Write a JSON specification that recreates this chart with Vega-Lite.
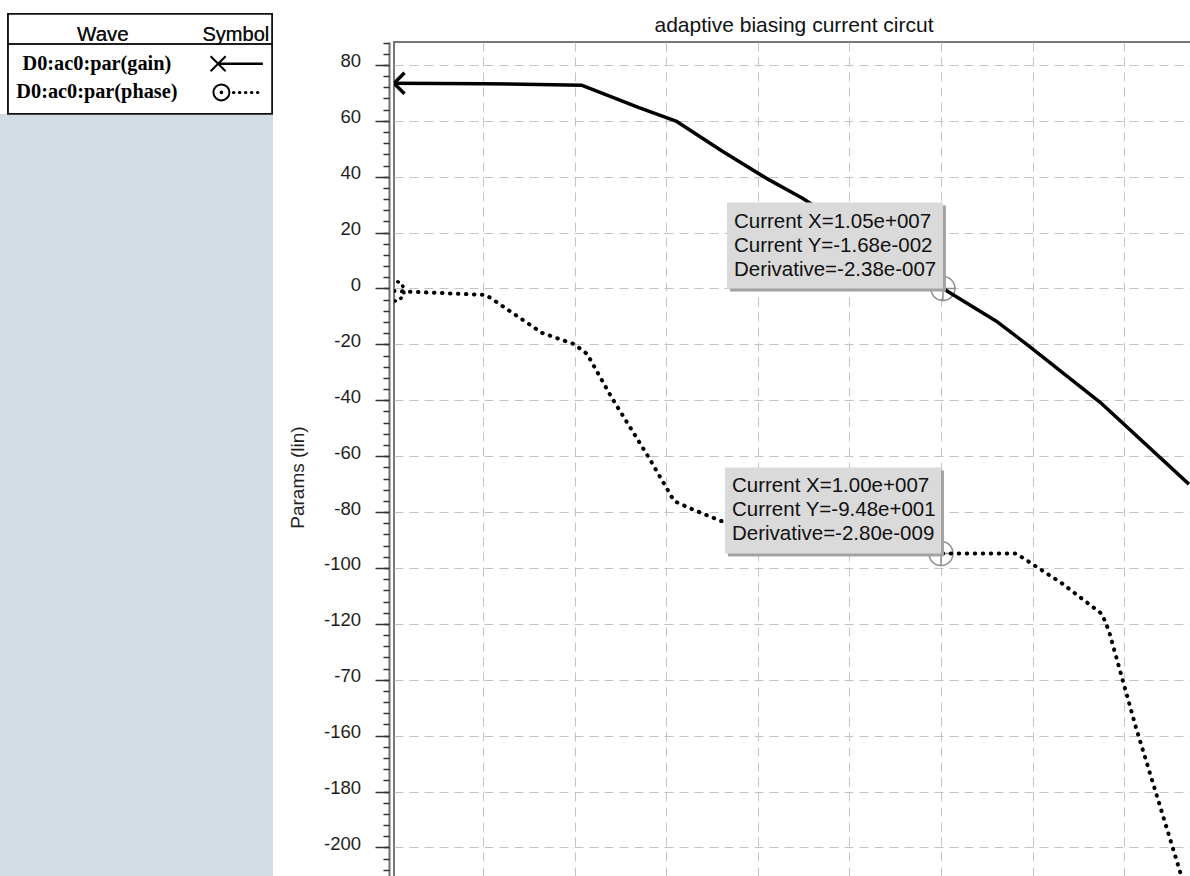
{
  "$schema": "https://vega.github.io/schema/vega-lite/v6.json",
  "padding": {"top": 13, "left": 0, "right": 0, "bottom": 0},
  "background": "#ffffff",
  "spacing": 14,
  "config": {
    "view": {"stroke": "#777777", "strokeWidth": 2},
    "font": "Liberation Sans",
    "axis": {
      "labelFont": "Liberation Sans", "labelFontSize": 18.5, "labelColor": "#1e1e1e",
      "titleFont": "Liberation Sans", "titleFontSize": 19, "titleFontWeight": "normal", "titleColor": "#1e1e1e",
      "domainColor": "#6e6e6e", "domainWidth": 2, "tickColor": "#333333", "tickWidth": 1.5,
      "gridColor": "#c4c4c4", "gridDash": [9, 6], "gridWidth": 1
    }
  },
  "datasets": {
    "legendRows": [
      {"series": "gain", "label": "D0:ac0:par(gain)", "order": 1},
      {"series": "phase", "label": "D0:ac0:par(phase)", "order": 2}
    ],
    "curves": [
      {"series": "gain", "freq": 10.67, "value": 73.4},
      {"series": "gain", "freq": 102.6, "value": 73.3},
      {"series": "gain", "freq": 1205, "value": 72.7},
      {"series": "gain", "freq": 5047, "value": 64.7},
      {"series": "gain", "freq": 12790, "value": 59.9},
      {"series": "gain", "freq": 40640, "value": 49.2},
      {"series": "gain", "freq": 123000, "value": 39.5},
      {"series": "gain", "freq": 304000, "value": 32.4},
      {"series": "gain", "freq": 10500000, "value": -0.0168},
      {"series": "gain", "freq": 39800000, "value": -11.6},
      {"series": "gain", "freq": 91400000, "value": -20.6},
      {"series": "gain", "freq": 573000000, "value": -41.3},
      {"series": "gain", "freq": 5090000000, "value": -70},
      {"series": "phase", "freq": 10.67, "value": -0.9},
      {"series": "phase", "freq": 108, "value": -2.3},
      {"series": "phase", "freq": 441, "value": -15.9},
      {"series": "phase", "freq": 985, "value": -19.9},
      {"series": "phase", "freq": 1365, "value": -23.4},
      {"series": "phase", "freq": 2558, "value": -39.2},
      {"series": "phase", "freq": 6486, "value": -60.6},
      {"series": "phase", "freq": 12160, "value": -76.0},
      {"series": "phase", "freq": 17740, "value": -78.5},
      {"series": "phase", "freq": 39630, "value": -83.2},
      {"series": "phase", "freq": 10000000, "value": -94.8},
      {"series": "phase", "freq": 65900000, "value": -94.8},
      {"series": "phase", "freq": 209000000, "value": -105.5},
      {"series": "phase", "freq": 573000000, "value": -116.5},
      {"series": "phase", "freq": 682000000, "value": -122.6},
      {"series": "phase", "freq": 1350000000, "value": -157.3},
      {"series": "phase", "freq": 3960000000, "value": -207.4},
      {"series": "phase", "freq": 5090000000, "value": -219.5}
    ],
    "cursors": [
      {"series": "gain", "freq": 10500000, "value": -0.0168, "readout": "Current X=1.05e+007\nCurrent Y=-1.68e-002\nDerivative=-2.38e-007"},
      {"series": "phase", "freq": 10000000, "value": -94.8, "readout": "Current X=1.00e+007\nCurrent Y=-9.48e+001\nDerivative=-2.80e-009"}
    ]
  },
  "hconcat": [
    {
      "width": 273,
      "height": 835,
      "view": {"fill": "#d3dce5", "stroke": null},
      "data": {"name": "legendRows"},
      "layer": [
        {
          "mark": {"type": "rect", "fill": "#ffffff"},
          "encoding": {
            "x": {"datum": 0, "type": "quantitative", "scale": {"domain": [0, 100], "nice": false, "zero": false}, "axis": null},
            "x2": {"datum": 100},
            "y": {"datum": -0.743, "type": "quantitative", "scale": {"domain": [0.2416, 29.36], "reverse": true, "nice": false, "zero": false}, "axis": null},
            "y2": {"datum": 2.74}
          }
        },
        {
          "mark": {"type": "rect", "fillOpacity": 0, "stroke": "#111111", "strokeWidth": 1.5},
          "encoding": {
            "x": {"datum": 2.9, "type": "quantitative", "scale": {"domain": [0, 100], "nice": false, "zero": false}, "axis": null},
            "x2": {"datum": 99.7},
            "y": {"datum": -0.743, "type": "quantitative", "scale": {"domain": [0.2416, 29.36], "reverse": true, "nice": false, "zero": false}, "axis": null},
            "y2": {"datum": 2.74}
          }
        },
        {
          "mark": {"type": "rule", "color": "#111111", "strokeWidth": 1.5},
          "encoding": {
            "x": {"datum": 2.9, "type": "quantitative", "scale": {"domain": [0, 100], "nice": false, "zero": false}, "axis": null},
            "x2": {"datum": 99.7},
            "y": {"datum": 0.312, "type": "quantitative", "scale": {"domain": [0.2416, 29.36], "reverse": true, "nice": false, "zero": false}, "axis": null}
          }
        },
        {
          "mark": {"type": "text", "text": "Wave", "font": "Liberation Sans", "fontSize": 20.5, "color": "#111111", "align": "center", "baseline": "middle"},
          "encoding": {
            "x": {"datum": 37.7, "type": "quantitative", "scale": {"domain": [0, 100], "nice": false, "zero": false}, "axis": null},
            "y": {"datum": 0, "type": "quantitative", "scale": {"domain": [0.2416, 29.36], "reverse": true, "nice": false, "zero": false}, "axis": null}
          }
        },
        {
          "mark": {"type": "text", "text": "Symbol", "font": "Liberation Sans", "fontSize": 20, "color": "#111111", "align": "center", "baseline": "middle"},
          "encoding": {
            "x": {"datum": 86.4, "type": "quantitative", "scale": {"domain": [0, 100], "nice": false, "zero": false}, "axis": null},
            "y": {"datum": 0, "type": "quantitative", "scale": {"domain": [0.2416, 29.36], "reverse": true, "nice": false, "zero": false}, "axis": null}
          }
        },
        {
          "mark": {"type": "text", "font": "Liberation Serif", "fontWeight": "bold", "fontSize": 20.3, "color": "#000000", "align": "center", "baseline": "middle"},
          "encoding": {
            "x": {"datum": 35.5, "type": "quantitative", "scale": {"domain": [0, 100], "nice": false, "zero": false}, "axis": null},
            "y": {"field": "order", "type": "quantitative", "scale": {"domain": [0.2416, 29.36], "reverse": true, "nice": false, "zero": false}, "axis": null},
            "text": {"field": "label", "type": "nominal"}
          }
        },
        {
          "transform": [{"filter": "datum.series == 'gain'"}],
          "mark": {"type": "point", "shape": "M-1,-1L1,1M-1,1L1,-1", "size": 225, "filled": false, "stroke": "#000000", "strokeWidth": 2, "opacity": 1},
          "encoding": {
            "x": {"datum": 79.9, "type": "quantitative", "scale": {"domain": [0, 100], "nice": false, "zero": false}, "axis": null},
            "y": {"field": "order", "type": "quantitative", "scale": {"domain": [0.2416, 29.36], "reverse": true, "nice": false, "zero": false}, "axis": null}
          }
        },
        {
          "transform": [{"filter": "datum.series == 'gain'"}],
          "mark": {"type": "rule", "color": "#000000", "strokeWidth": 2.5},
          "encoding": {
            "x": {"datum": 79.9, "type": "quantitative", "scale": {"domain": [0, 100], "nice": false, "zero": false}, "axis": null},
            "x2": {"datum": 96.3},
            "y": {"field": "order", "type": "quantitative", "scale": {"domain": [0.2416, 29.36], "reverse": true, "nice": false, "zero": false}, "axis": null}
          }
        },
        {
          "transform": [{"filter": "datum.series == 'phase'"}],
          "mark": {"type": "point", "shape": "M-1,0A1,1 0 1,1 1,0A1,1 0 1,1 -1,0M-0.1,0A0.1,0.1 0 1,1 0.1,0A0.1,0.1 0 1,1 -0.1,0", "size": 256, "filled": false, "stroke": "#000000", "strokeWidth": 2, "opacity": 1},
          "encoding": {
            "x": {"datum": 81.1, "type": "quantitative", "scale": {"domain": [0, 100], "nice": false, "zero": false}, "axis": null},
            "y": {"field": "order", "type": "quantitative", "scale": {"domain": [0.2416, 29.36], "reverse": true, "nice": false, "zero": false}, "axis": null}
          }
        },
        {
          "transform": [{"filter": "datum.series == 'phase'"}],
          "mark": {"type": "rule", "color": "#000000", "strokeWidth": 3, "strokeDash": [0.5, 5.5], "strokeCap": "round"},
          "encoding": {
            "x": {"datum": 85.5, "type": "quantitative", "scale": {"domain": [0, 100], "nice": false, "zero": false}, "axis": null},
            "x2": {"datum": 96.3},
            "y": {"field": "order", "type": "quantitative", "scale": {"domain": [0.2416, 29.36], "reverse": true, "nice": false, "zero": false}, "axis": null}
          }
        }
      ]
    },
    {
      "width": 800,
      "height": 870,
      "title": {"text": "adaptive biasing current circut", "font": "Liberation Sans", "fontSize": 21, "fontWeight": "normal", "color": "#111111", "frame": "group", "anchor": "middle", "offset": 6},
      "layer": [
        {
          "data": {"name": "cursors"},
          "mark": {"type": "point", "shape": "M-1,0A1,1 0 1,1 1,0A1,1 0 1,1 -1,0M-1,0L1,0M0,-1L0,1", "size": 576, "filled": false, "stroke": "#8c8c8c", "strokeWidth": 1.5, "opacity": 1},
          "encoding": {
            "x": {"field": "freq", "type": "quantitative", "scale": {"type": "log", "domain": [10.67, 5780000000], "nice": false}, "axis": {"values": [100, 1000, 10000, 100000, 1000000, 10000000, 100000000, 1000000000], "labels": false, "ticks": false, "domain": false, "title": null, "grid": true}},
            "y": {"field": "value", "type": "quantitative", "scale": {"domain": [-223.1, 88.2], "nice": false, "zero": false},
              "axis": {"orient": "left", "values": [-200, -180, -160, -140, -120, -100, -80, -60, -40, -20, 0, 20, 40, 60, 80], "labelExpr": "datum.value == -140 ? '-70' : '' + datum.value", "title": "Params (lin)", "offset": 5, "tickSize": 14, "labelPadding": 14.5, "titlePadding": 16, "labelBaseline": "alphabetic", "labelOffset": 2, "grid": true}}
          }
        },
        {
          "data": {"name": "curves"},
          "transform": [{"filter": "datum.series == 'gain'"}],
          "mark": {"type": "line", "color": "#000000", "strokeWidth": 3.5, "strokeJoin": "round"},
          "encoding": {
            "x": {"field": "freq", "type": "quantitative", "scale": {"type": "log", "domain": [10.67, 5780000000], "nice": false}, "axis": {"values": [100, 1000, 10000, 100000, 1000000, 10000000, 100000000, 1000000000], "labels": false, "ticks": false, "domain": false, "title": null, "grid": true}},
            "y": {"field": "value", "type": "quantitative", "scale": {"domain": [-223.1, 88.2], "nice": false, "zero": false},
              "axis": {"orient": "left", "values": [-220, -216, -212, -208, -204, -200, -196, -192, -188, -184, -180, -176, -172, -168, -164, -160, -156, -152, -148, -144, -140, -136, -132, -128, -124, -120, -116, -112, -108, -104, -100, -96, -92, -88, -84, -80, -76, -72, -68, -64, -60, -56, -52, -48, -44, -40, -36, -32, -28, -24, -20, -16, -12, -8, -4, 0, 4, 8, 12, 16, 20, 24, 28, 32, 36, 40, 44, 48, 52, 56, 60, 64, 68, 72, 76, 80, 84, 88], "labels": false, "title": null, "domain": false, "grid": false, "offset": 5, "tickSize": 6}}
          }
        },
        {
          "data": {"name": "curves"},
          "transform": [{"filter": "datum.series == 'phase'"}],
          "mark": {"type": "line", "color": "#000000", "strokeWidth": 4, "strokeDash": [0.5, 7.5], "strokeCap": "round", "clip": true},
          "encoding": {
            "x": {"field": "freq", "type": "quantitative", "scale": {"type": "log", "domain": [10.67, 5780000000], "nice": false}, "axis": {"values": [100, 1000, 10000, 100000, 1000000, 10000000, 100000000, 1000000000], "labels": false, "ticks": false, "domain": false, "title": null, "grid": true}},
            "y": {"field": "value", "type": "quantitative", "scale": {"domain": [-223.1, 88.2], "nice": false, "zero": false}, "axis": null}
          }
        },
        {
          "data": {"name": "curves"},
          "transform": [{"filter": "datum.series == 'gain' && datum.freq < 11"}],
          "mark": {"type": "point", "shape": "M-1,-1L1,1M-1,1L1,-1", "size": 441, "filled": false, "stroke": "#000000", "strokeWidth": 3.5, "opacity": 1, "clip": true},
          "encoding": {
            "x": {"field": "freq", "type": "quantitative", "scale": {"type": "log", "domain": [10.67, 5780000000], "nice": false}, "axis": {"values": [100, 1000, 10000, 100000, 1000000, 10000000, 100000000, 1000000000], "labels": false, "ticks": false, "domain": false, "title": null, "grid": true}},
            "y": {"field": "value", "type": "quantitative", "scale": {"domain": [-223.1, 88.2], "nice": false, "zero": false}, "axis": null}
          }
        },
        {
          "data": {"name": "curves"},
          "transform": [{"filter": "datum.series == 'phase' && datum.freq < 11"}],
          "mark": {"type": "point", "shape": "M-1,0A1,1 0 1,1 1,0A1,1 0 1,1 -1,0", "size": 400, "filled": false, "stroke": "#000000", "strokeWidth": 3.5, "strokeDash": [0.5, 6], "strokeCap": "round", "opacity": 1, "clip": true},
          "encoding": {
            "x": {"field": "freq", "type": "quantitative", "scale": {"type": "log", "domain": [10.67, 5780000000], "nice": false}, "axis": {"values": [100, 1000, 10000, 100000, 1000000, 10000000, 100000000, 1000000000], "labels": false, "ticks": false, "domain": false, "title": null, "grid": true}},
            "y": {"field": "value", "type": "quantitative", "scale": {"domain": [-223.1, 88.2], "nice": false, "zero": false}, "axis": null}
          }
        },
        {
          "data": {"name": "cursors"},
          "mark": {"type": "rect", "fill": "#a3a3a3", "xOffset": -213, "x2Offset": 3, "yOffset": -83, "y2Offset": 3},
          "encoding": {
            "x": {"field": "freq", "type": "quantitative", "scale": {"type": "log", "domain": [10.67, 5780000000], "nice": false}, "axis": {"values": [100, 1000, 10000, 100000, 1000000, 10000000, 100000000, 1000000000], "labels": false, "ticks": false, "domain": false, "title": null, "grid": true}},
            "x2": {"field": "freq"},
            "y": {"field": "value", "type": "quantitative", "scale": {"domain": [-223.1, 88.2], "nice": false, "zero": false}, "axis": null},
            "y2": {"field": "value"}
          }
        },
        {
          "data": {"name": "cursors"},
          "mark": {"type": "rect", "fill": "#dadada", "xOffset": -216, "x2Offset": 0, "yOffset": -86, "y2Offset": 0},
          "encoding": {
            "x": {"field": "freq", "type": "quantitative", "scale": {"type": "log", "domain": [10.67, 5780000000], "nice": false}, "axis": {"values": [100, 1000, 10000, 100000, 1000000, 10000000, 100000000, 1000000000], "labels": false, "ticks": false, "domain": false, "title": null, "grid": true}},
            "x2": {"field": "freq"},
            "y": {"field": "value", "type": "quantitative", "scale": {"domain": [-223.1, 88.2], "nice": false, "zero": false}, "axis": null},
            "y2": {"field": "value"}
          }
        },
        {
          "data": {"name": "cursors"},
          "mark": {"type": "text", "font": "Liberation Sans", "fontSize": 20.5, "color": "#111111", "align": "left", "baseline": "top", "dx": -209, "dy": -77, "lineBreak": "\n", "lineHeight": 24},
          "encoding": {
            "x": {"field": "freq", "type": "quantitative", "scale": {"type": "log", "domain": [10.67, 5780000000], "nice": false}, "axis": {"values": [100, 1000, 10000, 100000, 1000000, 10000000, 100000000, 1000000000], "labels": false, "ticks": false, "domain": false, "title": null, "grid": true}},
            "y": {"field": "value", "type": "quantitative", "scale": {"domain": [-223.1, 88.2], "nice": false, "zero": false}, "axis": null},
            "text": {"field": "readout", "type": "nominal"}
          }
        }
      ],
      "resolve": {"axis": {"y": "independent"}}
    }
  ]
}
